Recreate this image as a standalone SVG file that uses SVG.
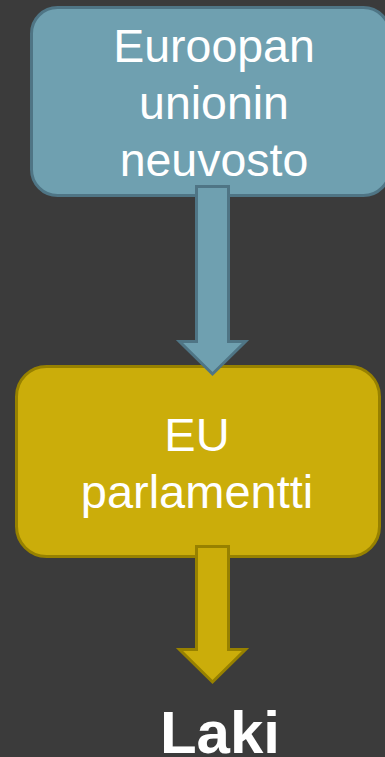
<svg xmlns="http://www.w3.org/2000/svg" width="385" height="757" viewBox="0 0 385 757">
<style>
.t{font-family:"Liberation Sans",Arial,sans-serif;fill:#fff;text-anchor:middle}
.blue{fill:#6fa0b0;stroke:#4f7585;stroke-width:3}
.gold{fill:#cbad0a;stroke:#978100;stroke-width:3}
</style>
<rect width="385" height="757" fill="#3b3b3b"/>
<g id="node-council">
<rect class="blue" x="31.5" y="7.5" width="358" height="188" rx="26"/>
<text class="t" font-size="46.5"><tspan x="214" y="62">Euroopan</tspan><tspan x="214" y="119">unionin</tspan><tspan x="214" y="176">neuvosto</tspan></text>
</g>
<g id="node-parliament">
<rect class="gold" x="16.5" y="366.5" width="363" height="190" rx="30"/>
<text class="t" font-size="47"><tspan x="197" y="451">EU</tspan><tspan x="197" y="508">parlamentti</tspan></text>
</g>
<g id="node-laki">
<text class="t" x="220" y="753" font-size="60" font-weight="bold">Laki</text>
</g>
<g id="connectors">
<polygon class="blue" points="196.5,186.5 228.5,186.5 228.5,341.5 245.5,341.5 212.5,374 179.5,341.5 196.5,341.5"/>
<polygon class="gold" points="196.5,546.5 228.5,546.5 228.5,649.5 245.5,649.5 212.5,682 179.5,649.5 196.5,649.5"/>
</g>
</svg>
